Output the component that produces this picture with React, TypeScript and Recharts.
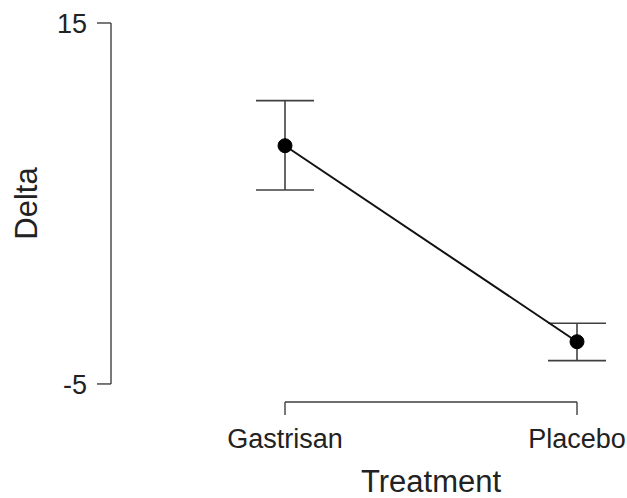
import React from 'react';
import { ComposedChart, Line, XAxis, YAxis, ErrorBar } from 'recharts';

const categories = ['Gastrisan', 'Placebo'];
const means = [8.2, -2.66];
const lowers = [5.75, -3.71];
const uppers = [10.7, -1.64];
const yTicks = [-5, 15];
const yDomain: [number, number] = [-6, 15];

const W = 627;
const H = 498;
const M = { top: 23, right: 20, bottom: 0, left: 0 };
const Y_W = 111;
const X_H = 96;
const PAD_L = 174;
const PAD_R = 30;
const FONT = '"Liberation Sans", Arial, Helvetica, sans-serif';
const AX = '#404040';
const TXT = '#222';

const data = categories.map((c, i) => ({
  treatment: c,
  mean: means[i],
  err: [means[i] - lowers[i], uppers[i] - means[i]],
}));

const plotW = W - M.left - M.right - Y_W;
const plotH = H - M.top - M.bottom - X_H;
const xSpan = plotW - PAD_L - PAD_R;
const yLineLen = (plotH * (yTicks[1] - yTicks[0])) / (yDomain[1] - yDomain[0]);

export default function App() {
  return (
    <div style={{ position: 'absolute', left: 0, top: 0, width: W, height: H, background: '#fff' }}>
      <ComposedChart width={W} height={H} data={data} margin={M}>
        <XAxis
          dataKey="treatment"
          height={X_H}
          padding={{ left: PAD_L, right: PAD_R }}
          stroke={AX}
          axisLine={{ stroke: AX, strokeWidth: 1.4, strokeDasharray: `0 ${PAD_L} ${xSpan} 3000` }}
          tickLine={{ stroke: AX, strokeWidth: 1.4 }}
          tickSize={13}
          tickMargin={14}
          tick={{ fill: TXT, fontSize: 27, fontFamily: FONT }}
          interval={0}
          label={{
            content: (p: any) => {
              const vb = p.viewBox;
              return (
                <text
                  x={vb.x + PAD_L + xSpan / 2}
                  y={vb.y + 90}
                  textAnchor="middle"
                  fill={TXT}
                  fontSize={31}
                  fontFamily={FONT}
                >
                  Treatment
                </text>
              );
            },
          }}
        />
        <YAxis
          type="number"
          domain={yDomain}
          ticks={yTicks}
          width={Y_W}
          stroke={AX}
          axisLine={{ stroke: AX, strokeWidth: 1.4, strokeDasharray: `${yLineLen} 3000` }}
          tickLine={{ stroke: AX, strokeWidth: 1.4 }}
          tickSize={14}
          tickMargin={10}
          tick={{ fill: TXT, fontSize: 27, fontFamily: FONT }}
          label={{
            content: (p: any) => {
              const vb = p.viewBox;
              const cy = vb.y + yLineLen / 2;
              return (
                <text
                  x={37}
                  y={cy}
                  textAnchor="middle"
                  fill={TXT}
                  fontSize={31}
                  fontFamily={FONT}
                  transform={`rotate(-90, 37, ${cy})`}
                >
                  Delta
                </text>
              );
            },
          }}
        />
        <Line
          dataKey="mean"
          stroke="#111"
          strokeWidth={2}
          isAnimationActive={false}
          dot={{ r: 7, fill: '#000', stroke: '#000', strokeWidth: 1 }}
          activeDot={false}
        >
          <ErrorBar dataKey="err" width={29} stroke={AX} strokeWidth={1.6} isAnimationActive={false} />
        </Line>
      </ComposedChart>
    </div>
  );
}
